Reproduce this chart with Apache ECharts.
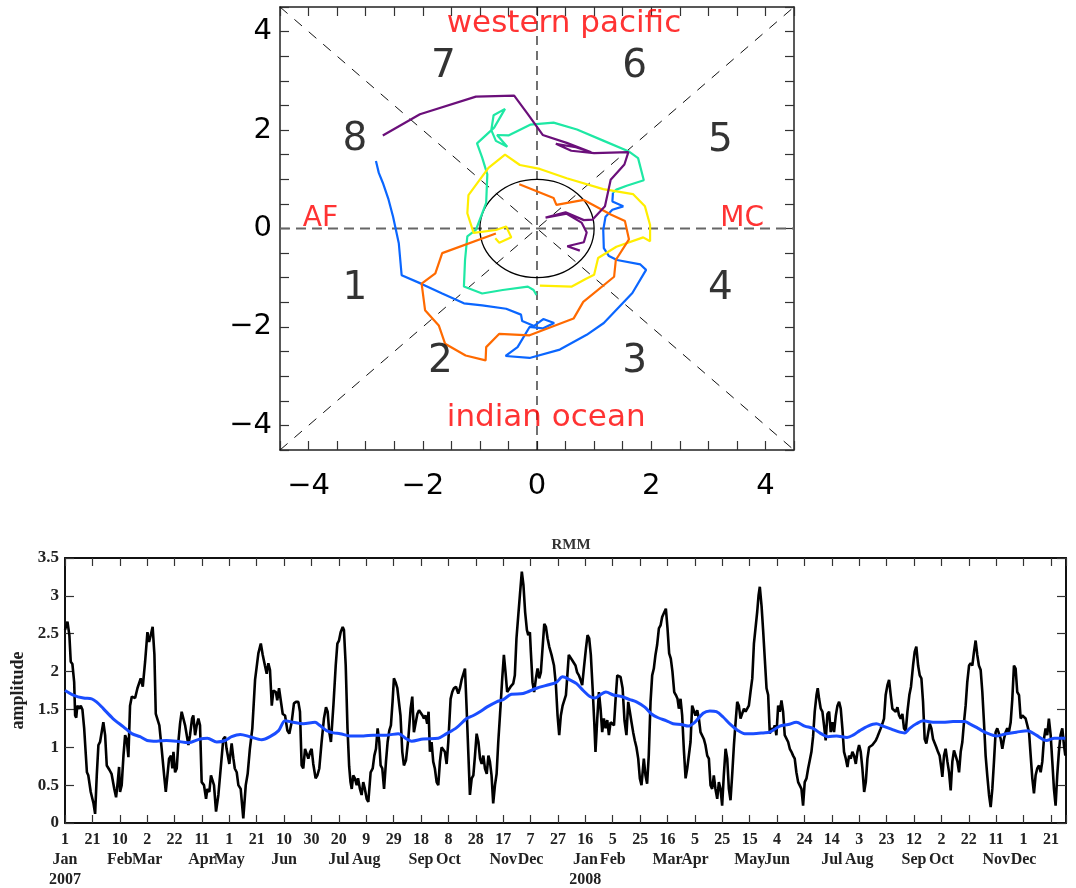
<!DOCTYPE html>
<html>
<head>
<meta charset="utf-8">
<script src="https://cdn.jsdelivr.net/npm/echarts@6/dist/echarts.min.js"></script>
<style>
  html, body { margin: 0; padding: 0; background: #fff; }
  #chart { width: 1076px; height: 888px; }
</style>
</head>
<body>
<div id="chart"></div>
<script>
// ---- phase diagram (RMM1, RMM2) ----
const phaseBlue = [[-2.82,1.37],[-2.77,1.13],[-2.70,0.93],[-2.60,0.59],[-2.52,0.24],[-2.42,-0.30],[-2.37,-0.95],[-2.03,-1.12],[-1.66,-1.32],[-1.28,-1.52],[-0.96,-1.56],[-0.54,-1.63],[-0.28,-1.75],[-0.26,-1.88],[-0.05,-1.98],[0.11,-1.84],[0.30,-1.92],[0.10,-2.03],[-0.13,-2.0],[-0.34,-2.41],[-0.55,-2.59],[-0.13,-2.63],[0.40,-2.46],[0.87,-2.16],[1.17,-1.92],[1.67,-1.31],[1.91,-0.84],[1.81,-0.73],[1.40,-0.64],[1.26,-0.56],[1.17,-0.40],[1.16,-0.03],[1.20,0.24],[1.32,0.38],[1.51,0.45],[1.32,0.55],[1.33,0.73]];
const phaseCyan = [[1.33,0.73],[1.39,0.79],[1.57,0.87],[1.87,0.98],[1.77,1.43],[1.60,1.57],[1.17,1.78],[0.70,2.01],[0.29,2.15],[-0.12,2.11],[-0.50,1.89],[-0.70,1.90],[-0.52,1.66],[-0.72,1.78],[-0.80,2.00],[-0.76,2.30],[-0.56,2.43],[-0.75,2.05],[-1.05,1.73],[-0.96,1.44],[-0.87,1.10],[-0.89,0.52],[-1.07,-0.03],[-1.22,-0.16],[-1.26,-0.64],[-1.28,-1.18],[-0.96,-1.32],[-0.60,-1.25],[-0.16,-1.18],[-0.06,-1.25],[-0.01,-1.35]];
const phaseYellow = [[0.05,-1.16],[0.61,-1.18],[0.86,-1.02],[1.00,-0.94],[1.07,-0.60],[1.39,-0.37],[1.86,-0.18],[1.98,-0.26],[1.98,0.07],[1.89,0.45],[1.68,0.70],[1.16,0.80],[0.52,1.02],[0.05,1.21],[-0.30,1.29],[-0.56,1.50],[-0.85,1.23],[-1.20,0.68],[-1.22,0.31],[-1.11,-0.09],[-0.72,-0.03],[-0.54,0.04],[-0.45,-0.18],[-0.66,-0.29],[-0.73,-0.20]];
const phaseOrange = [[-0.72,-0.10],[-1.66,-0.50],[-1.78,-0.91],[-2.02,-1.12],[-1.96,-1.66],[-1.72,-1.97],[-1.61,-2.34],[-1.25,-2.58],[-0.90,-2.68],[-0.89,-2.41],[-0.66,-2.14],[-0.13,-2.17],[0.64,-1.83],[0.81,-1.49],[1.35,-0.98],[1.38,-0.64],[1.61,-0.22],[1.54,0.15],[1.30,0.28],[0.82,0.58],[0.34,0.48],[0.29,0.62],[-0.31,0.90]];
const phasePurple = [[0.75,-0.45],[0.53,-0.36],[0.82,-0.28],[0.87,-0.08],[0.78,0.12],[0.52,0.30],[0.15,0.22],[0.50,0.33],[0.82,0.17],[0.97,0.18],[1.19,0.45],[1.29,0.99],[1.53,1.30],[1.60,1.55],[1.00,1.53],[0.60,1.58],[0.33,1.72],[0.68,1.65],[0.95,1.55],[0.52,1.74],[0.10,1.90],[-0.17,2.34],[-0.40,2.70],[-1.07,2.68],[-2.05,2.32],[-2.70,1.89]];
const phaseColors = ['#0a66ff', '#1ee8a4', '#ffee00', '#ff6a00', '#6b0f7a'];

const phaseTicks = [-4, -2, 0, 2, 4];
const unitCircle = [[0, 0, 1]];
const phaseNames = [['1',-3.19,-1.22],['2',-1.69,-2.71],['3',1.71,-2.71],['4',3.21,-1.22],['5',3.21,1.78],['6',1.71,3.29],['7',-1.64,3.29],['8',-3.19,1.80]];
const regionNames = [['western pacific',-1.58,4.16],['indian ocean',-1.58,-3.84],['AF',-4.10,0.20],['MC',3.21,0.20]];

// ---- RMM amplitude time series, day 0 = 1 Jan 2007 ----
const rmmAmplitude = [[0,2.55],[1.8,2.66],[3.2,2.48],[4.2,2.13],[5.4,2.10],[6.7,1.86],[7.4,1.42],[8.2,1.39],[9,1.55],[10.5,1.51],[11.5,1.55],[12.7,1.50],[14,1.25],[16,0.67],[17,0.63],[18.8,0.41],[20.8,0.26],[22,0.12],[23.2,0.63],[24.4,1.03],[25.6,1.07],[26.8,1.09],[28,1.33],[29.3,1.16],[30.5,0.76],[32.5,0.70],[34,0.65],[35.4,0.63],[36,0.45],[37.3,0.34],[38.5,0.54],[39.5,0.74],[40.2,0.41],[41.4,0.50],[42.7,0.89],[43.9,1.16],[45,1.11],[46.3,0.87],[47.5,1.55],[48.8,1.67],[50,1.69],[51.2,1.65],[52.9,1.78],[54.3,1.80],[55.3,1.91],[56.8,1.80],[58.5,2.13],[60.2,2.52],[61.4,2.39],[62.6,2.48],[64,2.59],[65.3,2.22],[66.3,1.44],[67.7,1.42],[68.9,1.29],[70.6,0.98],[72.4,0.63],[73.6,0.41],[74.8,0.63],[76,0.85],[77.4,0.89],[78.4,0.72],[79.2,0.94],[80.4,0.67],[81.6,0.72],[82.8,1.07],[84,1.31],[85.2,1.47],[86.5,1.47],[87.7,1.29],[88.9,1.27],[90.1,1.03],[91.3,1.16],[92.8,1.38],[93.7,1.42],[95,1.16],[96.2,1.29],[97.4,1.38],[98.6,1.29],[99.8,0.54],[101.5,0.50],[103,0.32],[104,0.45],[105.4,0.41],[106.6,0.63],
  [107.9,0.61],[108.8,0.50],[110.3,0.15],[112,0.37],[113.7,0.72],[115.6,1.11],[116.9,1.14],[118,0.98],[120,0.78],[121.7,1.05],[123,0.85],[124,0.72],[125.4,0.67],[126.6,0.50],[128.3,0.45],[130.2,0.06],[132,0.50],[133.4,0.65],[135,0.98],[136.8,1.25],[138.8,1.89],[140,1.91],[141.2,2.24],[143,2.37],[144.4,2.22],[146,2.08],[147.3,1.97],[148.5,2.11],[149.7,2.02],[151,1.55],[152.2,1.75],[154,1.73],[155,1.62],[156.3,1.78],[157.5,1.78],[159,1.44],[160.7,1.42],[162.4,1.22],[163.8,1.18],[165.5,1.33],[167.2,1.58],[168.7,1.60],[170.4,1.60],[171.6,1.47],[172.8,0.76],[174,0.72],[175.3,0.98],[176.5,1.00],[177.7,0.85],[179,0.94],[180.1,0.98],[181.3,0.78],[183,0.59],[184.3,0.63],[185.7,0.72],[187.4,1.07],[189.1,1.38],[190.6,1.53],[191.8,1.47],[193,1.20],[194.2,1.07],[196,1.55],[197.7,2.08],[198.9,2.37],[200.1,2.41],[201.3,2.52],[202.8,2.59],[203.7,2.55],[205,2.08],[206.3,1.25],[207.5,0.75],[208.5,0.54],[209.4,0.45],[210.5,0.63],[211.7,0.59],[213,0.50],[214,0.59],[215.4,0.45],[216.6,0.37],[217.8,0.54],[219,0.45],[220.3,0.32],[221.5,0.28],[223.2,0.67],[224.7,0.72],[225.9,0.89],[227.1,0.98],[228.3,1.25],[229.5,1.07],[230.5,0.76],[231.7,0.72],[233,0.45],[234.4,0.81],[235.6,1.07],[236.8,1.22],[238,1.29],[239.2,1.60],[240.2,1.91],[241.4,1.86],[242.7,1.78],[243.9,1.78],[245,1.42],[246.3,0.94],[247.5,0.76],[249,0.83],[250.7,1.11],[252.4,1.51],[253.6,1.67],[254.8,1.20],[256,1.20],[257.3,1.44],[258.5,1.49],[259.7,1.47],[261.1,1.42],[262.1,1.38],[263.3,1.42],[264.5,1.31],[265.5,1.47],[266.5,0.94],[267.7,1.07],[268.9,0.81],[270.1,0.72],[271.4,0.54],[272.6,0.50],[273.8,0.81],[275,1.00],[276.2,0.98],[277.4,0.94],[278.7,0.78],[279.9,1.07],[281.6,1.64],[282.8,1.73],[284,1.78],[285.5,1.80],[287.2,1.71],[288.4,1.78],[289.6,1.89],[290.9,1.91],[292.1,2.04],[293.3,1.51],[294.5,0.94],[295.7,0.37],[297,0.59],[298.2,0.63],[299.4,0.89],[300.6,1.18],[301.9,1.07],[303.1,0.85],[304.3,0.78],[305.5,0.89],[306.7,0.72],[308,0.65],[309.2,0.89],[310.3,0.81],[311.5,0.63],[312.7,0.26],[314,0.50],[315.2,0.65],[316.4,1.07],[318.1,1.55],[319.3,1.91],[320.5,2.22],[321.7,1.99],[322.9,1.73],[324.1,1.73],[325.4,1.80],[327.3,1.84],[328.5,1.95],[329.7,2.44],[331,2.74],[332.2,3.01],[333.6,3.32],[334.8,3.14],[336,2.79],[337.3,2.55],[338.3,2.48],[339.5,2.52],[340.2,2.26],[341.4,1.86],[342.6,1.73],[343.9,1.91],[345.1,2.04],[346.3,1.91],[347.5,1.99],[348.7,2.30],[350,2.63],[351.2,2.59],[352.4,2.44],[353.6,2.33],[355.3,2.22],[357.1,2.08],[358.5,1.82],[359.7,1.42],[360.9,1.16],[362.1,1.42],[363.4,1.55],[364.6,1.53],[365.8,1.69],[366.7,1.91],[367.9,2.22],[369.2,2.24],[370.4,2.15],[371.6,2.17],[372.8,2.08],[374,1.99],[375.3,1.95],[376.5,1.89],[377.7,1.82],[378.9,2.04],[380.4,2.30],[381.6,2.48],[382.8,2.44],[384,2.22],[385.3,1.78],[386.5,1.33],[387.4,0.94],[388.7,1.38],[389.9,1.73],[391.1,1.51],[392.3,1.20],[393.5,1.38],[394.8,1.25],[396,1.36],[397.2,1.16],[398.4,1.33],[399.6,1.33],[400.9,1.29],[402.1,1.64],[403.3,1.95],[404.5,1.97],[405.7,1.93],[407.2,1.78],[408.6,1.35],[410,1.16],[411.3,1.60],[412.5,1.47],[413.7,1.33],[414.9,1.20],[416.1,1.09],[417.3,1.00],[418.6,0.85],[419.8,0.59],[421,0.50],[422.7,0.85],[423.9,0.63],[425.1,0.52],[426.3,0.89],[427.6,1.60],[428.8,1.95],[430,2.04],[431.2,2.22],[432.4,2.35],[433.7,2.57],[434.9,2.61],[436.1,2.72],[437.3,2.77],[438.8,2.83],[440,2.57],[441.2,2.24],[442.4,2.17],[443.6,2.00],[444.9,1.73],[446.1,1.69],[447.3,1.64],[448.3,1.51],[449.5,1.64],[450.7,1.42],[451.9,0.98],[453.2,0.59],[454.4,0.72],[455.6,0.72],[456.8,1.07],[458,1.55],[459.2,1.53],[460.4,1.42],[461.7,1.49],[462.9,1.38],[464.1,1.20],[465.3,1.20],[466.5,1.11],[467.7,1.03],[469,0.89],[470.2,0.85],[471.4,0.50],[472.6,0.45],[473.8,0.63],[475,0.45],[476.3,0.32],[477.5,0.54],[478.7,0.45],[479.9,0.23],[481.1,0.63],[482.4,0.98],[483.6,0.85],[484.8,0.45],[486,0.30],[487.2,0.63],[488.5,1.03],[489.7,1.33],[490.9,1.60],[492.1,1.55],[493.3,1.38],[494.6,1.36],[495.8,1.51],[497,1.47],[498.2,1.49],[499.4,1.55],[500.6,1.73],[501.9,1.91],[503.1,2.37],[504.3,2.35],[505.5,2.79],[506.5,3.01],[507.4,3.12],[508.7,2.86],[509.9,2.52],[511.1,2.15],[512.3,1.78],[513.5,1.69],[514.7,1.18],[515.9,1.25],[517.1,1.22],[518.3,1.29],[519.5,1.16],[520.8,1.55],[522,1.47],[523.2,1.62],[524.4,1.47],[525.6,1.16],[526.8,1.18],[528.1,1.07],[529.3,0.98],[530.5,0.94],[531.7,0.89],[532.9,0.85],[534.1,0.67],[535.4,0.54],[536.6,0.54],[537.8,0.45],[539,0.23],[540.2,0.54],[541.5,0.59],[542.7,0.72],[543.9,0.83],[545.1,0.94],[546.3,1.14],[547.5,1.47],[548.8,1.69],[549.7,1.78],[550.7,1.64],[551.9,1.51],[553.1,1.47],[554.3,1.29],[555.5,1.09],[556.8,1.44],[558,1.47],[559.2,1.20],[560.4,1.33],[561.6,1.20],[562.9,1.42],[564.1,1.55],[565.3,1.60],[566.5,1.51],[567.7,1.25],[568.9,0.94],[570.2,0.85],[571.4,0.74],[572.6,0.89],[573.8,0.85],[575,0.94],[576.2,0.89],[577.5,0.78],[578.7,0.94],[579.9,1.03],[581.1,0.94],[582.3,0.72],[583.6,0.41],[584.8,0.54],[586,0.85],[587.2,1.00],[588.4,0.98],[589.6,1.03],[590.8,1.01],[592.1,1.09],[593.3,1.14],[594.5,1.16],[595.7,1.25],[596.9,1.31],[598.1,1.38],[599.3,1.69],[600.6,1.82],[601.8,1.89],[603,1.69],[604.2,1.51],[605.4,1.53],[606.7,1.47],[607.9,1.53],[609.1,1.42],[610.3,1.38],[611.5,1.44],[612.7,1.25],[614,1.22],[615.2,1.47],[616.6,1.69],[617.8,1.80],[619.3,2.08],[620.5,2.26],[621.7,2.33],[623,2.08],[624.2,1.95],[625.4,1.91],[626.6,1.60],[627.8,1.11],[629,1.05],[630.3,1.07],[631.5,1.31],[632.7,1.25],[633.9,1.11],[635.1,1.13],[636.3,1.00],[637.5,0.94],[638.7,0.89],[640,0.72],[640.7,0.61],[641.9,0.89],[643.1,0.98],[644.4,0.81],[645.6,0.67],[646.8,0.43],[648,0.81],[649.2,0.96],[650.4,0.89],[651.7,0.81],[652.9,0.67],[654.1,0.94],[655.3,1.07],[656.5,1.33],[657.7,1.55],[658.9,1.86],[660.2,2.08],[661.4,2.11],[662.6,2.08],[663.8,2.26],[665,2.41],[666.2,2.22],[667.4,2.08],[668.7,2.02],[669.9,1.73],[671.1,1.33],[672.3,0.89],[673.5,0.63],[674.8,0.37],[676,0.21],[677.2,0.45],[678.4,0.81],[679.6,1.20],[680.8,1.25],[682,1.27],[683.3,1.11],[684.5,0.98],[685.7,1.11],[686.9,1.20],[688.1,1.25],[689.3,1.20],[690.6,1.33],[691.8,1.64],[693,2.08],[694.2,2.04],[695.4,1.73],[696.7,1.69],[697.9,1.38],[699.1,1.42],[700.3,1.42],[701.5,1.38],[702.7,1.38],[704,1.20],[705.2,0.89],[706.4,0.59],[707.6,0.39],[708.8,0.63],[710,0.72],[711.3,0.76],[712.5,0.67],[713.7,0.81],[714.9,1.11],[716.1,1.25],[717.3,1.16],[718.5,1.38],[719.8,1.16],[721,0.81],[722.2,0.45],[723.4,0.23],[724.6,0.63],[725.8,0.94],[727,1.16],[728.3,1.25],[729.5,1.03],[730.5,0.89]];
const rmmMean = [[0,1.75],[6,1.69],[13.5,1.65],[19.5,1.64],[23,1.60],[28,1.51],[35,1.38],[42.7,1.27],[48.8,1.18],[54.8,1.14],[60,1.09],[67,1.08],[74,1.09],[81.6,1.08],[90,1.06],[98.6,1.11],[104,1.12],[110.8,1.07],[117,1.09],[121.7,1.14],[128,1.17],[135,1.14],[143.6,1.10],[149.7,1.14],[156,1.22],[160.7,1.35],[166.7,1.33],[174,1.31],[182.6,1.33],[186,1.29],[191,1.22],[196,1.19],[201,1.18],[208,1.15],[218,1.15],[225,1.16],[234.9,1.16],[243.4,1.18],[249.5,1.11],[253.1,1.08],[261.6,1.11],[272.6,1.12],[278.7,1.18],[286,1.26],[293.3,1.38],[298.2,1.42],[303,1.47],[308,1.53],[315.2,1.60],[320,1.63],[326,1.70],[334.6,1.71],[344.4,1.78],[354,1.83],[359,1.86],[363.4,1.93],[368.7,1.89],[373.6,1.84],[378.4,1.75],[383.3,1.67],[387,1.65],[390.6,1.69],[395,1.73],[400.4,1.69],[406.4,1.67],[412.5,1.63],[417.3,1.60],[423.4,1.53],[428.3,1.44],[433.2,1.39],[439.3,1.35],[444.1,1.31],[450.2,1.30],[455,1.28],[459.9,1.33],[466,1.45],[470.9,1.48],[475.7,1.47],[480.6,1.40],[485.5,1.31],[491.6,1.22],[496.4,1.18],[502.6,1.18],[509.9,1.19],[514.7,1.20],[522,1.28],[528.1,1.30],[534.1,1.33],[540.2,1.28],[546.3,1.25],[551.2,1.19],[557.3,1.14],[563.4,1.15],[571.1,1.13],[575.5,1.16],[580.4,1.22],[586.4,1.28],[592.5,1.31],[597.4,1.28],[603.5,1.24],[609.6,1.20],[613.2,1.19],[616.9,1.25],[621.7,1.31],[626.6,1.35],[633.9,1.33],[641.2,1.33],[648.5,1.34],[657,1.34],[660.7,1.31],[666.8,1.25],[672.9,1.19],[680.4,1.15],[687.5,1.18],[694.8,1.20],[703,1.22],[709.3,1.16],[716.6,1.09],[722.6,1.12],[730.5,1.12]];
const monthNames = ['Jan','Feb','Mar','Apr','May','Jun','Jul','Aug','Sep','Oct','Nov','Dec'];
const startDate = Date.UTC(2007, 0, 1);
const lastDay = 731;

function dayToDate(v) {
    return new Date(startDate + v * 86400000);
}

function dateLabel(v) {
    if (v % 20 !== 0) return '';
    const d = dayToDate(v);
    const p = dayToDate(v - 20);
    const mon = (v === 0 || d.getUTCMonth() !== p.getUTCMonth()) ? monthNames[d.getUTCMonth()] : ' ';
    const yr = (v === 0 || d.getUTCFullYear() !== p.getUTCFullYear()) ? String(d.getUTCFullYear()) : ' ';
    return d.getUTCDate() + '\n' + mon + '\n' + yr;
}

function phaseLabel(v) {
    if (phaseTicks.indexOf(v) < 0) return '';
    return v < 0 ? '\u2212' + Math.abs(v) : String(v);
}

const boxLine = { show: true, onZero: false, lineStyle: { color: '#222', width: 1.5 } };
const phaseTick = { show: true, inside: true, length: 9, lineStyle: { color: '#333', width: 1.2 } };
const phaseFont = { color: '#000', fontFamily: 'DejaVu Sans', fontSize: 29 };
const serifFont = { color: '#222', fontFamily: 'Liberation Serif', fontWeight: 'bold', fontSize: 16 };

function phaseAxis(position, showLabel, extra) {
    return Object.assign({
        type: 'value', gridIndex: 0, position: position,
        min: -4.5, max: 4.5, interval: 0.5,
        axisLine: boxLine, axisTick: phaseTick, splitLine: { show: false },
        axisLabel: Object.assign({ show: showLabel, formatter: phaseLabel }, phaseFont)
    }, extra || {});
}

function refLine(points, color, width, dash) {
    return {
        type: 'line', xAxisIndex: 0, yAxisIndex: 0, data: points, symbol: 'none', silent: true,
        lineStyle: { color: color, width: width, type: dash }, z: 1
    };
}

const phaseSeries = [phaseBlue, phaseCyan, phaseYellow, phaseOrange, phasePurple].map(function (pts, i) {
    return {
        type: 'line', xAxisIndex: 0, yAxisIndex: 0, data: pts, symbol: 'none', silent: true,
        lineStyle: { color: phaseColors[i], width: 2.2 }, z: 3
    };
});

const option = {
    animation: false,
    backgroundColor: '#fff',
    title: {
        text: 'RMM', left: 566, top: 533, textAlign: 'center',
        textStyle: { fontFamily: 'Liberation Serif', fontWeight: 'bold', fontSize: 15, color: '#333' }
    },
    grid: [
        { left: 280, top: 7, width: 514, height: 443, containLabel: false, outerBoundsMode: 'none' },
        { left: 65, top: 558, width: 1001, height: 265, containLabel: false, outerBoundsMode: 'none' }
    ],
    xAxis: [
        phaseAxis('bottom', true, { axisLabel: Object.assign({ show: true, formatter: phaseLabel, margin: 22 }, phaseFont) }),
        phaseAxis('top', false),
        {
            type: 'value', gridIndex: 1, position: 'bottom', min: 0, max: lastDay, interval: 20,
            axisLine: { show: true, onZero: false, lineStyle: { color: '#111', width: 2 } },
            axisTick: { show: true, inside: true, length: 8, lineStyle: { color: '#333', width: 1.2 } },
            splitLine: { show: false },
            axisLabel: Object.assign({ formatter: dateLabel, margin: 7, lineHeight: 20, align: 'center' }, serifFont)
        },
        {
            type: 'value', gridIndex: 1, position: 'top', min: 0, max: lastDay, interval: 20,
            axisLine: { show: true, onZero: false, lineStyle: { color: '#111', width: 2 } },
            axisTick: { show: true, inside: true, length: 8, lineStyle: { color: '#333', width: 1.2 } },
            splitLine: { show: false }, axisLabel: { show: false }
        }
    ],
    yAxis: [
        phaseAxis('left', true, { gridIndex: 0, axisLabel: Object.assign({ show: true, formatter: phaseLabel, margin: 8 }, phaseFont) }),
        phaseAxis('right', false, { gridIndex: 0 }),
        {
            type: 'value', gridIndex: 1, position: 'left', min: 0, max: 3.5, interval: 0.5,
            name: 'amplitude', nameLocation: 'middle', nameGap: 38, nameRotate: 90,
            nameTextStyle: { fontFamily: 'Liberation Serif', fontWeight: 'bold', fontSize: 18, color: '#222' },
            axisLine: { show: true, onZero: false, lineStyle: { color: '#111', width: 2 } },
            axisTick: { show: true, inside: true, length: 9, lineStyle: { color: '#333', width: 1.2 } },
            splitLine: { show: false },
            axisLabel: Object.assign({ margin: 6 }, serifFont, { fontSize: 17 })
        },
        {
            type: 'value', gridIndex: 1, position: 'right', min: 0, max: 3.5, interval: 0.5,
            axisLine: { show: true, onZero: false, lineStyle: { color: '#111', width: 2 } },
            axisTick: { show: true, inside: true, length: 9, lineStyle: { color: '#333', width: 1.2 } },
            splitLine: { show: false }, axisLabel: { show: false }
        }
    ],
    series: [
        refLine([[-4.5, 0], [4.5, 0]], '#666', 2, [10, 6]),
        refLine([[0, -4.5], [0, 4.5]], '#111', 1.2, [9, 6]),
        refLine([[-4.5, -4.5], [4.5, 4.5]], '#111', 1, [10, 9]),
        refLine([[-4.5, 4.5], [4.5, -4.5]], '#111', 1, [10, 9]),
        {
            type: 'custom', xAxisIndex: 0, yAxisIndex: 0, data: unitCircle, silent: true, z: 2,
            renderItem: function (params, api) {
                const c = api.coord([api.value(0), api.value(1)]);
                const s = api.size([api.value(2), api.value(2)]);
                return {
                    type: 'ellipse',
                    shape: { cx: c[0], cy: c[1], rx: s[0], ry: s[1] },
                    style: { fill: 'none', stroke: '#000', lineWidth: 1.3 }
                };
            }
        }
    ].concat(phaseSeries).concat([
        {
            type: 'scatter', xAxisIndex: 0, yAxisIndex: 0, symbolSize: 0, silent: true, z: 4,
            data: phaseNames.map(function (d) { return { value: [d[1], d[2]], name: d[0] }; }),
            label: {
                show: true, position: 'inside', formatter: '{b}', align: 'center', verticalAlign: 'middle',
                color: '#000', fontFamily: 'DejaVu Sans', fontSize: 39
            }
        },
        {
            type: 'scatter', xAxisIndex: 0, yAxisIndex: 0, symbolSize: 0, silent: true, z: 4,
            data: regionNames.map(function (d) {
                const big = d[0].length > 2;
                return { value: [d[1], d[2]], name: d[0], label: { fontSize: big ? 31 : 28 } };
            }),
            label: {
                show: true, position: 'inside', formatter: '{b}', align: 'left', verticalAlign: 'middle',
                color: '#ff0000', fontFamily: 'DejaVu Sans'
            }
        },
        {
            type: 'line', xAxisIndex: 2, yAxisIndex: 2, data: rmmAmplitude, symbol: 'none', silent: true,
            lineStyle: { color: '#000', width: 2.6 }, z: 3
        },
        {
            type: 'line', xAxisIndex: 2, yAxisIndex: 2, data: rmmMean, symbol: 'none', smooth: 0.3, silent: true,
            lineStyle: { color: '#1a4dff', width: 3 }, z: 4
        }
    ])
};

const chart = echarts.init(document.getElementById('chart'));
chart.setOption(option);
</script>
</body>
</html>
